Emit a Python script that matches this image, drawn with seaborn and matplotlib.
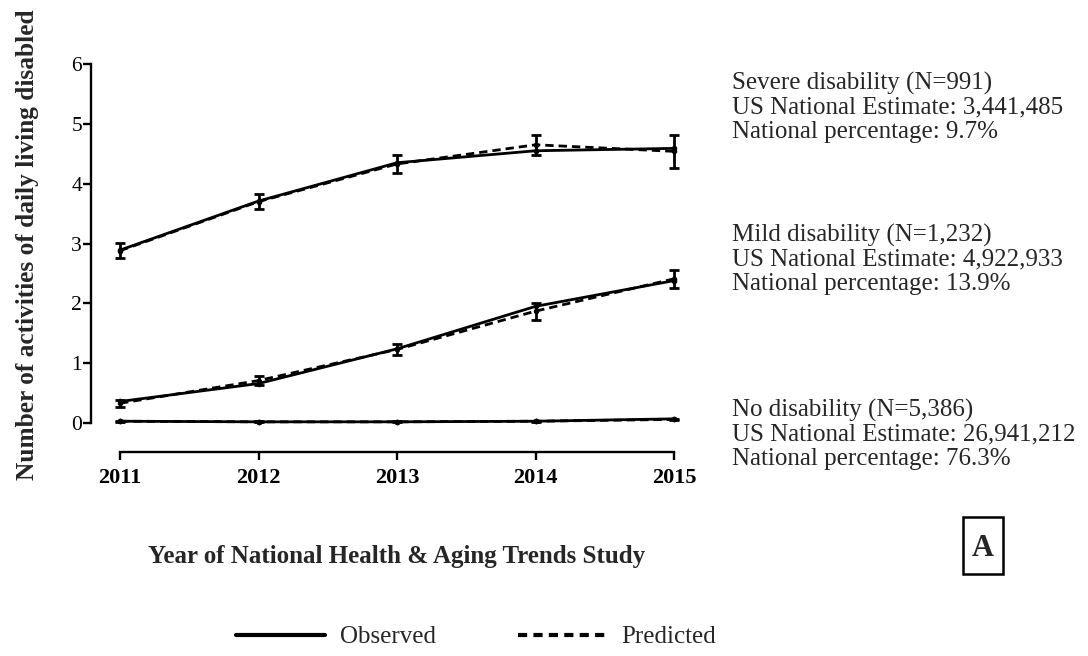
import matplotlib
matplotlib.use("Agg")
import matplotlib.pyplot as plt
import pandas as pd
import seaborn as sns
from matplotlib.lines import Line2D
from matplotlib.patches import Rectangle

# ---- data ---------------------------------------------------------------
years = [2011, 2012, 2013, 2014, 2015]
groups = ["Severe", "Mild", "None"]

severe_observed = [2.89, 3.71, 4.35, 4.55, 4.59]
severe_predicted = [2.88, 3.70, 4.33, 4.65, 4.54]
severe_err = [0.13, 0.12, 0.15, 0.165, 0.275]

mild_observed = [0.36, 0.66, 1.24, 1.95, 2.38]
mild_predicted = [0.33, 0.71, 1.23, 1.87, 2.41]
mild_err = [0.055, 0.07, 0.09, 0.14, 0.155]

none_observed = [0.03, 0.02, 0.02, 0.03, 0.07]
none_predicted = [0.03, 0.02, 0.02, 0.03, 0.06]
none_err = [0.01, 0.01, 0.01, 0.01, 0.01]

group_notes = [
    ["Severe disability (N=991)", "US National Estimate: 3,441,485", "National percentage: 9.7%"],
    ["Mild disability (N=1,232)", "US National Estimate: 4,922,933", "National percentage: 13.9%"],
    ["No disability (N=5,386)", "US National Estimate: 26,941,212", "National percentage: 76.3%"],
]
y_ticks = [0, 1, 2, 3, 4, 5, 6]

# ---- long-form table -----------------------------------------------------
observed = {"Severe": severe_observed, "Mild": mild_observed, "None": none_observed}
predicted = {"Severe": severe_predicted, "Mild": mild_predicted, "None": none_predicted}
errors = {"Severe": severe_err, "Mild": mild_err, "None": none_err}

rows = []
for g in groups:
    for yr, o, p in zip(years, observed[g], predicted[g]):
        rows.append({"year": yr, "group": g, "kind": "Observed", "value": o})
        rows.append({"year": yr, "group": g, "kind": "Predicted", "value": p})
df = pd.DataFrame(rows)

# ---- figure --------------------------------------------------------------
sns.set_theme(style="ticks")
plt.rcParams["font.family"] = ["Liberation Serif", "DejaVu Serif"]

W, H = 1088, 656
fig = plt.figure(figsize=(W / 100, H / 100), dpi=100)


def fx(px):
    return px / W


def fy(py):
    return 1 - py / H


ax_left, ax_right, ax_top, ax_bottom = 91, 681, 64, 432
ax = fig.add_axes([fx(ax_left), fy(ax_bottom), fx(ax_right - ax_left), fy(ax_top) - fy(ax_bottom)])

sns.lineplot(
    data=df, x="year", y="value", style="kind", units="group", estimator=None,
    color="black", linewidth=2.0, dashes={"Observed": "", "Predicted": (3, 1.8)},
    markers={"Observed": "o", "Predicted": "o"}, markersize=4, markeredgewidth=0,
    legend=False, ax=ax, clip_on=False,
)

for g in groups:
    ax.errorbar(years, predicted[g], yerr=errors[g], fmt="none", ecolor="black",
                elinewidth=2.0, capsize=3.5, capthick=2.0, clip_on=False, zorder=3)

# spines first: repositioning a spine resets its axis ticks
for side in ("top", "right"):
    ax.spines[side].set_visible(False)
ax.spines["bottom"].set_position(("outward", 14.4))
for side in ("left", "bottom"):
    ax.spines[side].set_linewidth(1.7)
    ax.spines[side].set_color("black")

ax.set_xlim(2010.79, 2015.05)
ax.set_ylim(-0.15, 6)
ax.spines["left"].set_bounds(0, 6)
ax.spines["bottom"].set_bounds(2011, 2015)
ax.set_yticks(y_ticks)
ax.set_xticks(years)
ax.set_xticklabels([str(y) for y in years], fontweight="bold", fontsize=16)
ax.set_yticklabels([str(t) for t in y_ticks], fontsize=15.5)
ax.set_xlabel("")
ax.set_ylabel("")
ax.tick_params(axis="y", direction="out", length=5.5, width=1.7, pad=1, colors="black")
ax.tick_params(axis="x", direction="out", length=5.5, width=1.7, pad=6, colors="black")

# axis titles
fig.text(fx(28), fy(245), "Number of activities of daily living disabled", rotation=90,
         ha="center", va="center", fontsize=18.3, fontweight="bold")
fig.text(fx(397), fy(556), "Year of National Health & Aging Trends Study",
         ha="center", va="center", fontsize=18, fontweight="bold")

# group notes on the right
note_baselines = [90, 242, 417]
for lines, base in zip(group_notes, note_baselines):
    for i, line in enumerate(lines):
        fig.text(fx(732), fy(base + i * 23.8), line, ha="left", va="baseline", fontsize=18)

# panel letter
fig.patches.append(Rectangle((fx(963), fy(574)), fx(40), fy(517) - fy(574), transform=fig.transFigure,
                             fill=False, edgecolor="black", linewidth=1.8))
fig.text(fx(983), fy(548), "A", ha="center", va="center", fontsize=22, fontweight="bold")

# legend
handles = [
    Line2D([], [], color="black", linewidth=3, linestyle="-"),
    Line2D([], [], color="black", linewidth=3, linestyle=(0, (2.2, 1.5))),
]
fig.legend(handles, ["Observed", "Predicted"], loc="center", bbox_to_anchor=(fx(476), fy(637)),
           ncol=2, frameon=False, fontsize=18, handlelength=3.56, columnspacing=3.28,
           handletextpad=0.6)

fig.savefig("out.png", dpi=100)
